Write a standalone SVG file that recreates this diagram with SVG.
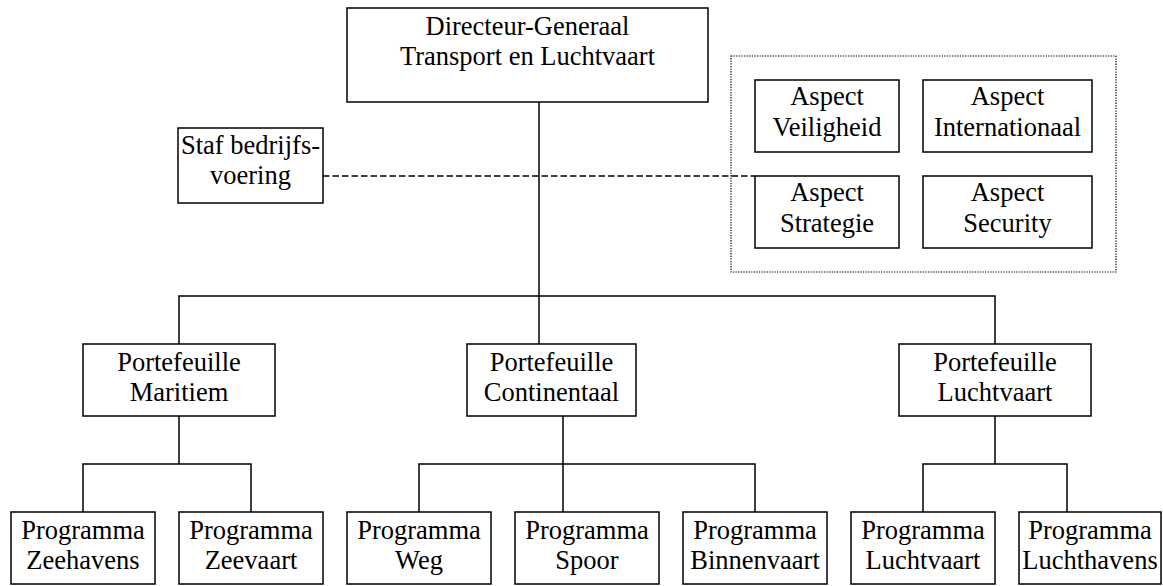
<svg xmlns="http://www.w3.org/2000/svg" width="1163" height="586" viewBox="0 0 1163 586">
<style>
.box{fill:#fff;stroke:#000;stroke-width:1.5}
.ln{fill:none;stroke:#000;stroke-width:1.5}
.dash{fill:none;stroke:#000;stroke-width:1.5;stroke-dasharray:6.5 3}
.dot{fill:none;stroke:#000;stroke-width:1.2;stroke-dasharray:1.3 1.3}
text{font-family:"Liberation Serif","Times New Roman",serif;font-size:26.5px;fill:#000;text-anchor:middle}
</style>
<rect width="1163" height="586" fill="#fff"/>
<g id="connectors">
<path class="ln" d="M539,102 V344"/>
<path class="ln" d="M179,344 V296 H995 V344"/>
<path class="dash" d="M323,176 H755"/>
<path class="ln" d="M179,416 V464 M83,512 V464 H251 V512"/>
<path class="ln" d="M563,416 V512 M419,512 V464 H755 V512"/>
<path class="ln" d="M995,416 V464 M923,512 V464 H1067 V512"/>
</g>
<g id="aspects-group"><rect class="dot" x="731" y="56" width="385" height="216"/></g>
<g id="dg"><rect class="box" x="347" y="8" width="361" height="94"/><text x="527.5" y="35">Directeur-Generaal</text><text x="527.5" y="65">Transport en Luchtvaart</text></g>
<g id="staf"><rect class="box" x="178" y="128" width="145" height="75"/><text x="250.5" y="154">Staf bedrijfs-</text><text x="250.5" y="184">voering</text></g>
<g id="aspect-veiligheid"><rect class="box" x="755" y="80" width="144" height="72"/><text x="827" y="105">Aspect</text><text x="827" y="136">Veiligheid</text></g>
<g id="aspect-internationaal"><rect class="box" x="923" y="80" width="169" height="72"/><text x="1007.5" y="105">Aspect</text><text x="1007.5" y="136">Internationaal</text></g>
<g id="aspect-strategie"><rect class="box" x="755" y="176" width="144" height="72"/><text x="827" y="201">Aspect</text><text x="827" y="232">Strategie</text></g>
<g id="aspect-security"><rect class="box" x="923" y="176" width="169" height="72"/><text x="1007.5" y="201">Aspect</text><text x="1007.5" y="232">Security</text></g>
<g id="pf-maritiem"><rect class="box" x="83" y="344" width="192" height="72"/><text x="179" y="371">Portefeuille</text><text x="179" y="401">Maritiem</text></g>
<g id="pf-continentaal"><rect class="box" x="467" y="344" width="169" height="72"/><text x="551.5" y="371">Portefeuille</text><text x="551.5" y="401">Continentaal</text></g>
<g id="pf-luchtvaart"><rect class="box" x="899" y="344" width="192" height="72"/><text x="995" y="371">Portefeuille</text><text x="995" y="401">Luchtvaart</text></g>
<g id="pr-zeehavens"><rect class="box" x="11" y="512" width="144" height="72"/><text x="83" y="539">Programma</text><text x="83" y="569">Zeehavens</text></g>
<g id="pr-zeevaart"><rect class="box" x="179" y="512" width="144" height="72"/><text x="251" y="539">Programma</text><text x="251" y="569">Zeevaart</text></g>
<g id="pr-weg"><rect class="box" x="347" y="512" width="144" height="72"/><text x="419" y="539">Programma</text><text x="419" y="569">Weg</text></g>
<g id="pr-spoor"><rect class="box" x="515" y="512" width="144" height="72"/><text x="587" y="539">Programma</text><text x="587" y="569">Spoor</text></g>
<g id="pr-binnenvaart"><rect class="box" x="683" y="512" width="144" height="72"/><text x="755" y="539">Programma</text><text x="755" y="569">Binnenvaart</text></g>
<g id="pr-luchtvaart"><rect class="box" x="851" y="512" width="144" height="72"/><text x="923" y="539">Programma</text><text x="923" y="569">Luchtvaart</text></g>
<g id="pr-luchthavens"><rect class="box" x="1019" y="512" width="142" height="72"/><text x="1090" y="539">Programma</text><text x="1090" y="569">Luchthavens</text></g>
</svg>
